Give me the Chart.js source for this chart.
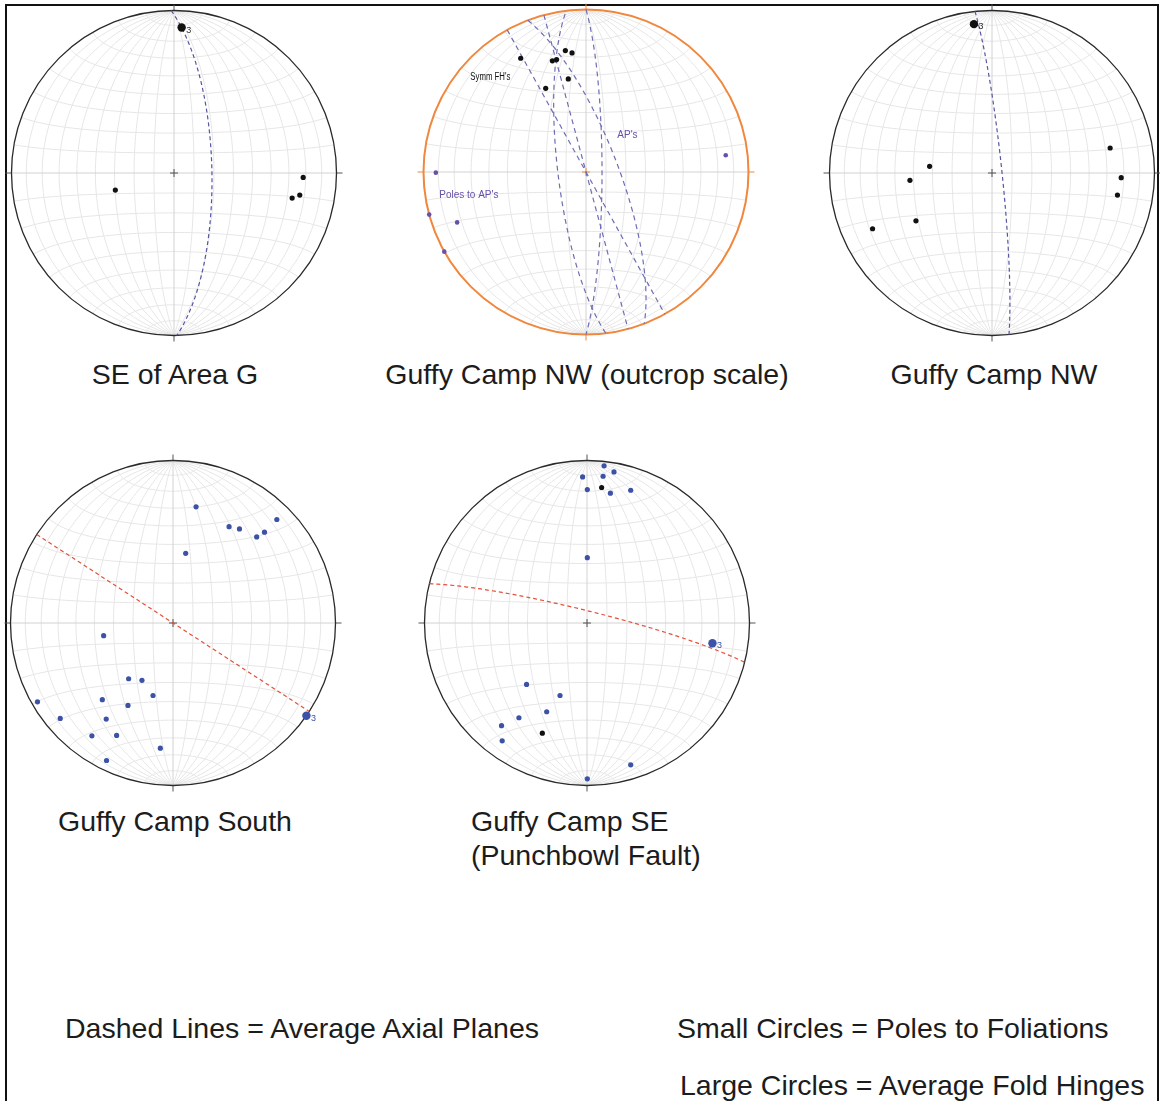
<!DOCTYPE html>
<html>
<head>
<meta charset="utf-8">
<script src="https://cdn.jsdelivr.net/npm/chart.js@4.4.1/dist/chart.umd.min.js"></script>
<style>
  html, body { margin:0; padding:0; background:#fff; overflow:hidden; }
  body { width:1160px; height:1101px; position:relative; font-family:"Liberation Sans", Arial, sans-serif; }
  .frame { position:absolute; left:5px; top:4px; width:1150px; height:1200px; border:2px solid #111; }
  canvas { position:absolute; }
  .lbl { position:absolute; font-size:28.5px; line-height:28px; color:#1c1c1c; white-space:nowrap; }
  .ctr { transform:translateX(-50%); }
</style>
</head>
<body>
<div class="frame"></div>

<canvas id="net1" width="352" height="352"></canvas>
<canvas id="net2" width="352" height="352"></canvas>
<canvas id="net3" width="352" height="352"></canvas>
<canvas id="net4" width="352" height="352"></canvas>
<canvas id="net5" width="352" height="352"></canvas>

<div class="lbl ctr" style="left:175px; top:360px;">SE of Area G</div>
<div class="lbl ctr" style="left:587px; top:360px;">Guffy Camp NW (outcrop scale)</div>
<div class="lbl ctr" style="left:994px; top:360px;">Guffy Camp NW</div>
<div class="lbl ctr" style="left:175px; top:807px;">Guffy Camp South</div>
<div class="lbl" style="left:471px; top:807px;">Guffy Camp SE</div>
<div class="lbl" style="left:471px; top:841px;">(Punchbowl Fault)</div>

<div class="lbl" style="left:65px; top:1014px;">Dashed Lines = Average Axial Planes</div>
<div class="lbl" style="left:677px; top:1014px;">Small Circles = Poles to Foliations</div>
<div class="lbl" style="left:680px; top:1071px;">Large Circles = Average Fold Hinges</div>

<script>
// points are [x, y] on the net (x east, y north, primitive = 1), equal-area lower hemisphere
// planes are [dip direction, dip] in degrees

// SE of Area G
const seAreaG_poles = [[-0.361,-0.105],[0.795,-0.027],[0.774,-0.136],[0.727,-0.154]];
const seAreaG_hinge = [[0.047,0.895]];
const seAreaG_axialPlanes = [[89,71]];

// Guffy Camp NW (outcrop scale)
const nwOutcrop_foldHinges = [[-0.402,0.700],[-0.207,0.684],[-0.181,0.692],[-0.127,0.747],[-0.086,0.733],[-0.109,0.573],[-0.248,0.515]];
const nwOutcrop_polesToAP = [[0.860,0.103],[-0.924,-0.004],[-0.965,-0.262],[-0.793,-0.310],[-0.872,-0.490]];
const nwOutcrop_axialPlanes = [[263,76],[90,82],[75,90],[69,74],[61,90]];

// Guffy Camp NW
const guffyNW_poles = [[0.727,0.154],[0.795,-0.029],[0.772,-0.136],[-0.384,0.041],[-0.505,-0.045],[-0.468,-0.294],[-0.735,-0.343]];
const guffyNW_hinge = [[-0.111,0.916]];
const guffyNW_axialPlanes = [[84,85]];

// Guffy Camp South
const guffyS_poles = [[0.142,0.715],[0.345,0.593],[0.409,0.579],[0.639,0.637],[0.563,0.559],[0.515,0.530],[0.078,0.429],
  [-0.427,-0.078],[-0.273,-0.343],[-0.191,-0.353],[-0.123,-0.446],[-0.435,-0.472],[-0.277,-0.507],[-0.834,-0.485],
  [-0.694,-0.587],[-0.411,-0.591],[-0.499,-0.694],[-0.347,-0.692],[-0.078,-0.770],[-0.409,-0.846]];
const guffyS_hinge = [[0.821,-0.571]];
const guffyS_axialPlanes = [[33,90]];

// Guffy Camp SE (Punchbowl Fault)
const guffySE_poles = [[0.105,0.967],[0.166,0.930],[-0.027,0.899],[0.099,0.903],[0.002,0.821],[0.144,0.799],[0.269,0.817],
  [0.002,0.402],[-0.372,-0.378],[-0.166,-0.446],[-0.248,-0.546],[-0.419,-0.583],[-0.526,-0.632],[-0.522,-0.725],
  [0.269,-0.873],[0.002,-0.959]];
const guffySE_blackPoles = [[0.090,0.834],[-0.275,-0.678]];
const guffySE_hinge = [[0.772,-0.125]];
const guffySE_axialPlanes = [[14,84]];

const R = 162.5;          // primitive radius in px
const SIZE = 352;
const LIM = SIZE / (2 * R);
const rad = Math.PI / 180;

// lower-hemisphere equal-area projection of a unit vector (east, north, down)
function project(e, n, d) {
  const k = 1 / Math.sqrt(1 + d);
  return { x: e * k, y: n * k };
}

function greatCircle(plane) {
  const dd = plane[0] * rad, dip = plane[1] * rad, st = dd - Math.PI / 2;
  const s = [Math.sin(st), Math.cos(st), 0];
  const v = [Math.sin(dd) * Math.cos(dip), Math.cos(dd) * Math.cos(dip), Math.sin(dip)];
  const out = [];
  for (let t = 0; t <= 180; t += 2) {
    const c = Math.cos(t * rad), sn = Math.sin(t * rad);
    out.push(project(c * s[0] + sn * v[0], c * s[1] + sn * v[1], Math.max(0, c * s[2] + sn * v[2])));
  }
  return out;
}

// Schmidt net grid, 10 degree spacing
const gridCurves = [];
for (let a = 10; a < 90; a += 10) {
  gridCurves.push(greatCircle([90, a]));
  gridCurves.push(greatCircle([270, a]));
}
for (let a = 10; a < 180; a += 10) {
  if (a === 90) continue;
  const pts = [];
  for (let f = 0; f <= 180; f += 3) {
    const sa = Math.sin(a * rad);
    pts.push(project(sa * Math.cos(f * rad), Math.cos(a * rad), sa * Math.sin(f * rad)));
  }
  gridCurves.push(pts);
}

const netGrid = {
  id: 'netGrid',
  beforeDatasetsDraw(chart, args, opts) {
    const ctx = chart.ctx, xs = chart.scales.x, ys = chart.scales.y;
    const cx = xs.getPixelForValue(0), cy = ys.getPixelForValue(0);
    const r = xs.getPixelForValue(1) - cx;
    ctx.save();
    ctx.strokeStyle = '#e6e6e6';
    ctx.lineWidth = 1;
    gridCurves.forEach(c => {
      ctx.beginPath();
      c.forEach((p, i) => {
        const X = xs.getPixelForValue(p.x), Y = ys.getPixelForValue(p.y);
        if (i) ctx.lineTo(X, Y); else ctx.moveTo(X, Y);
      });
      ctx.stroke();
    });
    // N-S and E-W lines with ticks outside the primitive
    ctx.strokeStyle = '#d2d2d2';
    ctx.beginPath();
    ctx.moveTo(cx - r, cy); ctx.lineTo(cx + r, cy);
    ctx.moveTo(cx, cy - r); ctx.lineTo(cx, cy + r);
    ctx.stroke();
    ctx.strokeStyle = opts.tick;
    ctx.beginPath();
    ctx.moveTo(cx - r - 6, cy); ctx.lineTo(cx - r, cy);
    ctx.moveTo(cx + r, cy); ctx.lineTo(cx + r + 6, cy);
    ctx.moveTo(cx, cy - r - 6); ctx.lineTo(cx, cy - r);
    ctx.moveTo(cx, cy + r); ctx.lineTo(cx, cy + r + 6);
    ctx.stroke();
    // primitive
    ctx.strokeStyle = opts.rim;
    ctx.lineWidth = opts.rimWidth;
    ctx.beginPath();
    ctx.arc(cx, cy, r, 0, Math.PI * 2);
    ctx.stroke();
    // centre cross
    ctx.strokeStyle = opts.tick;
    ctx.lineWidth = 1;
    ctx.beginPath();
    ctx.moveTo(cx - 4, cy); ctx.lineTo(cx + 4, cy);
    ctx.moveTo(cx, cy - 4); ctx.lineTo(cx, cy + 4);
    ctx.stroke();
    ctx.restore();
  },
  afterDatasetsDraw(chart, args, opts) {
    const ctx = chart.ctx, xs = chart.scales.x, ys = chart.scales.y;
    ctx.save();
    (opts.labels || []).forEach(l => {
      ctx.font = l.font || '9px "Liberation Sans", Arial, sans-serif';
      ctx.fillStyle = l.color;
      ctx.textBaseline = 'middle';
      ctx.textAlign = 'left';
      const X = xs.getPixelForValue(l.x) + (l.dx || 0), Y = ys.getPixelForValue(l.y) + (l.dy || 0);
      ctx.save();
      ctx.translate(X, Y);
      ctx.scale(l.sx || 1, 1);
      ctx.fillText(l.text, 0, 0);
      ctx.restore();
    });
    ctx.restore();
  }
};

const toXY = arr => arr.map(p => ({ x: p[0], y: p[1] }));

function pointSet(arr, color, radius) {
  return { data: toXY(arr), pointRadius: radius, pointBackgroundColor: color, pointBorderWidth: 0,
           showLine: false, order: 1 };
}
function planeSet(plane, color, dash) {
  return { data: greatCircle(plane), showLine: true, pointRadius: 0, borderColor: color,
           borderWidth: 1.2, borderDash: dash, fill: false, tension: 0, order: 2 };
}

function makeNet(id, cx, cy, datasets, gridOpts) {
  const el = document.getElementById(id);
  el.style.left = (cx - SIZE / 2) + 'px';
  el.style.top = (cy - SIZE / 2) + 'px';
  new Chart(el, {
    type: 'scatter',
    data: { datasets: datasets },
    options: {
      responsive: false,
      animation: false,
      layout: { padding: 0, autoPadding: false },
      scales: {
        x: { type: 'linear', min: -LIM, max: LIM, display: false },
        y: { type: 'linear', min: -LIM, max: LIM, display: false }
      },
      plugins: { legend: { display: false }, tooltip: { enabled: false }, netGrid: gridOpts }
    },
    plugins: [netGrid]
  });
}

const BLACK = '#111111', BLUE = '#3b52a6', PURPLE = '#6650a8', APLINE = '#6e6eb4', RED = '#e3503c';
const baseGrid = { rim: '#2a2a2a', rimWidth: 1.3, tick: '#555555' };

makeNet('net1', 174, 172.7, [
  ...seAreaG_axialPlanes.map(p => planeSet(p, '#5656a6', [4, 3])),
  pointSet(seAreaG_poles, BLACK, 2.6),
  pointSet(seAreaG_hinge, BLACK, 4.2)
], Object.assign({}, baseGrid, { labels: [
  { text: '3', x: seAreaG_hinge[0][0], y: seAreaG_hinge[0][1], dx: 4.5, dy: 2.5, color: '#333' }
] }));

makeNet('net2', 585.7, 172, [
  ...nwOutcrop_axialPlanes.map(p => planeSet(p, APLINE, [5, 4])),
  pointSet(nwOutcrop_foldHinges, BLACK, 2.6),
  pointSet(nwOutcrop_polesToAP, PURPLE, 2.3)
], { rim: '#f0873c', rimWidth: 2, tick: '#f0873c', labels: [
  { text: "Symm FH's", x: -0.712, y: 0.585, color: '#111', font: '10px "Liberation Sans", Arial, sans-serif', sx: 0.78 },
  { text: "AP's", x: 0.193, y: 0.228, color: PURPLE, font: '10px "Liberation Sans", Arial, sans-serif' },
  { text: "Poles to AP's", x: -0.903, y: -0.142, color: PURPLE, font: '10px "Liberation Sans", Arial, sans-serif' }
] });

makeNet('net3', 992.3, 172.7, [
  ...guffyNW_axialPlanes.map(p => planeSet(p, '#5656a6', [4, 3])),
  pointSet(guffyNW_poles, BLACK, 2.6),
  pointSet(guffyNW_hinge, BLACK, 4.2)
], Object.assign({}, baseGrid, { labels: [
  { text: '3', x: guffyNW_hinge[0][0], y: guffyNW_hinge[0][1], dx: 4.5, dy: 2.5, color: '#333' }
] }));

makeNet('net4', 173, 622.7, [
  ...guffyS_axialPlanes.map(p => planeSet(p, RED, [4, 3])),
  pointSet(guffyS_poles, BLUE, 2.6),
  pointSet(guffyS_hinge, BLUE, 4.2)
], Object.assign({}, baseGrid, { labels: [
  { text: '3', x: guffyS_hinge[0][0], y: guffyS_hinge[0][1], dx: 4.5, dy: 2.5, color: BLUE }
] }));

makeNet('net5', 587.3, 622.7, [
  ...guffySE_axialPlanes.map(p => planeSet(p, RED, [4, 3])),
  pointSet(guffySE_poles, BLUE, 2.6),
  pointSet(guffySE_blackPoles, BLACK, 2.6),
  pointSet(guffySE_hinge, BLUE, 4.2)
], Object.assign({}, baseGrid, { labels: [
  { text: '3', x: guffySE_hinge[0][0], y: guffySE_hinge[0][1], dx: 4.5, dy: 2.5, color: BLUE }
] }));
</script>
</body>
</html>
